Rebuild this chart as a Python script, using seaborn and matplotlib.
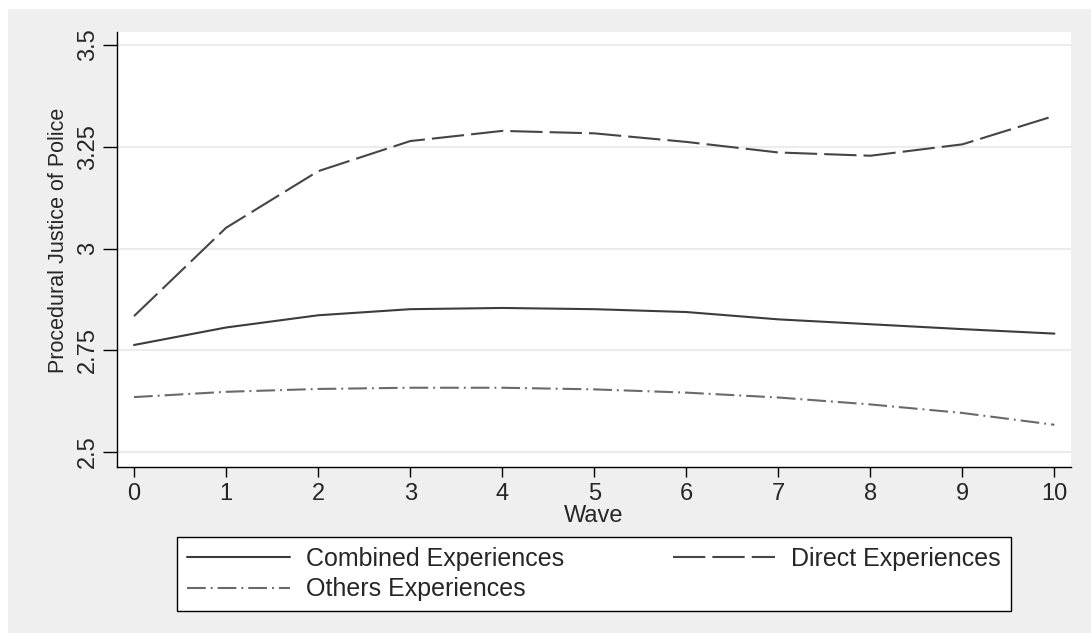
import matplotlib
matplotlib.use('Agg')
import matplotlib.pyplot as plt
import pandas as pd
import seaborn as sns
from matplotlib.patches import Rectangle

sns.set_style('white')
plt.rcParams['font.family'] = ['Liberation Sans', 'DejaVu Sans']

# Data
waves = [0, 1, 2, 3, 4, 5, 6, 7, 8, 9, 10]
combined = [2.763, 2.806, 2.836, 2.851, 2.854, 2.851, 2.844, 2.826, 2.814, 2.802, 2.791]
direct = [2.834, 3.051, 3.190, 3.264, 3.289, 3.283, 3.262, 3.236, 3.228, 3.256, 3.326]
others = [2.635, 2.648, 2.655, 2.658, 2.658, 2.654, 2.646, 2.634, 2.617, 2.596, 2.567]
y_ticks = [2.5, 2.75, 3, 3.25, 3.5]
y_tick_labels = ['2.5', '2.75', '3', '3.25', '3.5']

df = pd.DataFrame({'wave': waves, 'Combined Experiences': combined,
                   'Direct Experiences': direct, 'Others Experiences': others})

fig = plt.figure(figsize=(10.91, 6.33), dpi=100, facecolor='#efefef')
# white strips on the top and left edge like the exported image
fig.patches.append(Rectangle((0, 1 - 9 / 633), 1, 9 / 633, transform=fig.transFigure,
                             facecolor='white', edgecolor='none', zorder=-1))
fig.patches.append(Rectangle((0, 0), 8 / 1091, 1, transform=fig.transFigure,
                             facecolor='white', edgecolor='none', zorder=-1))

ax = fig.add_axes([117 / 1091, (633 - 466.7) / 633, 954 / 1091, 434.7 / 633])
ax.set_facecolor('white')

sns.lineplot(data=df, x='wave', y='Combined Experiences', ax=ax, color='#3c3c3c',
             linewidth=1.5, label='Combined Experiences', legend=False)
sns.lineplot(data=df, x='wave', y='Direct Experiences', ax=ax, color='#454545',
             linewidth=1.5, linestyle=(0, (15.5, 3.4)), label='Direct Experiences', legend=False)
sns.lineplot(data=df, x='wave', y='Others Experiences', ax=ax, color='#6a6a6a',
             linewidth=1.5, linestyle=(0, (9, 2.4, 0.9, 2.4)), label='Others Experiences', legend=False)

ax.set_xlim(-0.185, 10.18)
ax.set_ylim(2.464, 3.532)
ax.set_xticks(waves)
ax.set_yticks(y_ticks)
ax.set_yticklabels(y_tick_labels)

for y in y_ticks:
    ax.axhline(y, color='#ececec', linewidth=1.5, zorder=0)

for side in ['top', 'right']:
    ax.spines[side].set_visible(False)
for side in ['left', 'bottom']:
    ax.spines[side].set_color('black')
    ax.spines[side].set_linewidth(1)

ax.tick_params(axis='x', direction='out', length=7, width=1, color='black',
               labelsize=17, pad=5, bottom=True)
ax.tick_params(axis='y', direction='out', length=10, width=1, color='black',
               labelsize=17, pad=3, left=True, labelrotation=90)
for lab in ax.get_yticklabels():
    lab.set_va('center')

ax.set_xlabel('Wave', fontsize=17, labelpad=0)
ax.set_ylabel('Procedural Justice of Police', fontsize=15.5)
ax.yaxis.set_label_coords(-0.0504, 0.52)

lines = ax.get_lines()[:3]
handles = [lines[0], lines[2], lines[1]]
labels = ['Combined Experiences', 'Others Experiences', 'Direct Experiences']
leg = fig.legend(handles, labels, ncol=2, mode='expand', loc='upper left',
                 bbox_to_anchor=(177 / 1091, 0.0, 834 / 1091, (633 - 537) / 633),
                 borderaxespad=0, fontsize=18, handlelength=4.1, handletextpad=0.65,
                 labelspacing=0.25, borderpad=0.4, fancybox=False, frameon=True)
leg.get_frame().set_edgecolor('black')
leg.get_frame().set_linewidth(1)
leg.get_frame().set_facecolor('white')
leg.get_frame().set_alpha(1)

fig.savefig('out.png', dpi=100, facecolor=fig.get_facecolor())
